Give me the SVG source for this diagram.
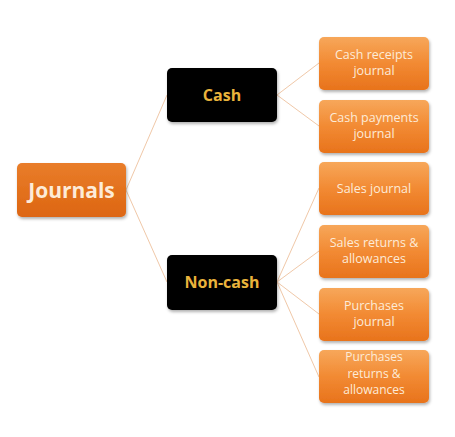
<svg xmlns="http://www.w3.org/2000/svg" width="455" height="437" viewBox="0 0 455 437">
<defs>
<linearGradient id="og" x1="0" y1="0" x2="0" y2="1">
<stop offset="0" stop-color="#f7a75a"/>
<stop offset="0.5" stop-color="#f28a33"/>
<stop offset="1" stop-color="#e8731c"/>
</linearGradient>
<linearGradient id="jg" x1="0" y1="0" x2="0" y2="1">
<stop offset="0" stop-color="#e97d2a"/>
<stop offset="1" stop-color="#dd6612"/>
</linearGradient>
<filter id="sh" x="-10%" y="-10%" width="125%" height="130%">
<feDropShadow dx="1" dy="2" stdDeviation="1.5" flood-color="#000" flood-opacity="0.3"/>
</filter>
</defs>
<style>
.leaf rect{fill:url(#og);filter:url(#sh)}
.leaf text{font-family:"Open Sans","Liberation Sans",sans-serif;font-size:12.5px;fill:#fdebd8;text-anchor:middle}
.leaf text.s{font-size:12px}
.mid rect{fill:#000;filter:url(#sh)}
.mid text{font-family:"Open Sans","Liberation Sans",sans-serif;font-size:16px;font-weight:bold;fill:#eab33c;text-anchor:middle}
.root rect{fill:url(#jg);filter:url(#sh)}
.root text{font-family:"Open Sans","Liberation Sans",sans-serif;font-size:21px;font-weight:bold;fill:#fdebd8;text-anchor:middle}
.conn line{stroke:#f0c8a8;stroke-width:1}
</style>
<rect width="455" height="437" fill="#fff"/>
<g class="conn">
<line x1="126" y1="190" x2="167" y2="95"/>
<line x1="126" y1="190" x2="167" y2="282"/>
<line x1="277" y1="95" x2="319" y2="63"/>
<line x1="277" y1="95" x2="319" y2="126"/>
<line x1="277" y1="282" x2="319" y2="188"/>
<line x1="277" y1="282" x2="319" y2="251"/>
<line x1="277" y1="282" x2="319" y2="314"/>
<line x1="277" y1="282" x2="319" y2="377"/>
</g>
<g id="journals" class="root">
<rect x="17" y="163" width="109" height="54" rx="5"/>
<text x="71.5" y="197.5">Journals</text>
</g>
<g id="cash" class="mid">
<rect x="167" y="68" width="110" height="54" rx="5"/>
<text x="222" y="101">Cash</text>
</g>
<g id="noncash" class="mid">
<rect x="167" y="255" width="110" height="55" rx="5"/>
<text x="222" y="288">Non-cash</text>
</g>
<g id="cash-receipts" class="leaf">
<rect x="319" y="37" width="110" height="53" rx="5"/>
<text x="374" y="59">Cash receipts</text>
<text x="374" y="75">journal</text>
</g>
<g id="cash-payments" class="leaf">
<rect x="319" y="100" width="110" height="53" rx="5"/>
<text x="374" y="122">Cash payments</text>
<text x="374" y="138">journal</text>
</g>
<g id="sales-journal" class="leaf">
<rect x="319" y="162" width="110" height="53" rx="5"/>
<text x="374" y="192.5">Sales journal</text>
</g>
<g id="sales-returns" class="leaf">
<rect x="319" y="225" width="110" height="53" rx="5"/>
<text x="374" y="247">Sales returns &amp;</text>
<text x="374" y="263">allowances</text>
</g>
<g id="purchases-journal" class="leaf">
<rect x="319" y="288" width="110" height="53" rx="5"/>
<text x="374" y="310">Purchases</text>
<text x="374" y="326">journal</text>
</g>
<g id="purchases-returns" class="leaf">
<rect x="319" y="350" width="110" height="53" rx="5"/>
<text class="s" x="374" y="361">Purchases</text>
<text class="s" x="374" y="377.5">returns &amp;</text>
<text class="s" x="374" y="394">allowances</text>
</g>
</svg>
